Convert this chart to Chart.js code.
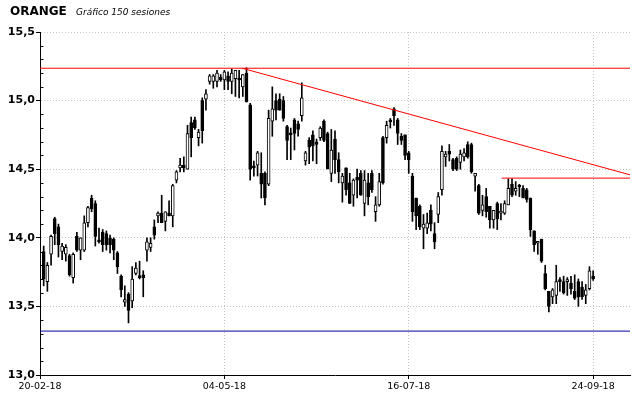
<!DOCTYPE html>
<html><head><meta charset="utf-8">
<script src="https://cdn.jsdelivr.net/npm/chart.js@4.4.1/dist/chart.umd.min.js"></script>
<style>html,body{margin:0;padding:0;background:#fff}#wrap{position:relative;width:640px;height:398px}</style>
</head><body><div id="wrap"><canvas id="c"></canvas></div>
<script>
const opens=[13.90,13.68,13.88,14.14,14.08,13.90,13.88,13.87,13.71,14.01,
13.91,13.91,14.11,14.29,14.25,13.98,14.04,14.03,14.00,13.99,
13.89,13.72,13.53,13.59,13.54,13.74,13.72,13.73,13.91,13.93,
14.08,14.16,14.18,14.12,14.18,14.16,14.42,14.51,14.53,14.50,
14.84,14.86,14.73,15.00,15.01,15.14,15.14,15.14,15.17,15.15,
15.18,15.14,15.16,15.16,15.10,15.20,14.97,14.52,14.53,14.47,
14.47,14.39,14.85,15.00,15.01,15.00,14.81,14.76,14.86,14.83,
14.89,14.56,14.71,14.75,14.70,14.73,14.85,14.76,14.47,14.72,
14.57,14.40,14.51,14.40,14.31,14.44,14.47,14.25,14.40,14.47,
14.19,14.24,14.73,14.73,14.86,14.94,14.86,14.74,14.75,14.62,
14.45,14.29,14.23,14.07,14.07,14.20,14.03,14.17,14.35,14.59,
14.63,14.57,14.58,14.55,14.59,14.68,14.68,14.45,14.38,14.20,
14.30,14.23,14.13,14.25,14.18,14.18,14.24,14.39,14.34,14.38,
14.36,14.35,14.29,14.05,13.96,13.99,13.74,13.61,13.57,13.58,
13.69,13.68,13.68,13.67,13.61,13.68,13.64,13.58,13.63,13.72];
const highs=[13.94,13.82,14.02,14.15,14.10,13.96,13.95,13.88,13.89,14.04,
14.00,14.16,14.23,14.31,14.27,14.07,14.06,14.05,14.02,14.00,
13.90,13.73,13.65,13.60,13.79,13.82,13.83,13.76,14.00,14.00,
14.13,14.19,14.31,14.19,14.27,14.39,14.49,14.58,14.59,14.82,
14.88,14.88,14.79,15.02,15.08,15.19,15.19,15.22,15.19,15.22,
15.21,15.23,15.22,15.22,15.19,15.24,14.98,14.56,14.63,14.62,
14.48,14.93,15.10,15.05,15.05,15.03,14.82,14.80,14.87,14.85,
15.13,14.63,14.73,14.78,14.72,14.81,14.86,14.77,14.79,14.78,
14.62,14.47,14.51,14.47,14.43,14.50,14.49,14.49,14.47,14.49,
14.30,14.47,14.74,14.85,14.87,14.95,14.87,14.76,14.75,14.63,
14.47,14.29,14.24,14.17,14.18,14.24,14.11,14.33,14.67,14.63,
14.68,14.58,14.59,14.64,14.65,14.70,14.69,14.47,14.39,14.31,
14.36,14.23,14.20,14.26,14.25,14.27,14.43,14.43,14.41,14.39,
14.38,14.36,14.29,14.05,13.97,13.99,13.80,13.61,13.63,13.80,
13.71,13.72,13.71,13.72,13.73,13.70,13.68,13.66,13.79,13.76];
const lows=[13.65,13.61,13.80,13.95,13.86,13.84,13.83,13.72,13.67,13.90,
13.84,13.90,14.08,14.19,13.94,13.96,13.90,13.91,13.89,13.84,
13.74,13.57,13.50,13.38,13.49,13.73,13.70,13.57,13.83,13.90,
13.99,14.11,14.11,14.05,14.16,14.08,14.40,14.48,14.48,14.50,
14.59,14.79,14.67,14.69,14.93,15.12,15.09,15.10,15.14,15.08,
15.08,15.05,15.03,15.02,15.03,14.99,14.42,14.45,14.45,14.29,
14.24,14.38,14.74,14.86,14.93,14.85,14.57,14.57,14.64,14.74,
14.85,14.53,14.54,14.56,14.54,14.71,14.70,14.51,14.41,14.47,
14.40,14.26,14.31,14.25,14.23,14.29,14.31,14.16,14.24,14.33,
14.12,14.23,14.39,14.69,14.80,14.82,14.68,14.68,14.57,14.47,
14.12,14.06,14.06,13.92,14.03,14.05,13.92,14.11,14.31,14.52,
14.56,14.49,14.49,14.50,14.56,14.58,14.47,14.34,14.17,14.16,
14.15,14.07,14.07,14.06,14.13,14.17,14.24,14.30,14.31,14.30,
14.29,14.26,14.01,13.90,13.88,13.82,13.62,13.46,13.52,13.52,
13.61,13.59,13.58,13.59,13.55,13.50,13.55,13.52,13.62,13.69];
const closes=[13.70,13.80,14.01,14.03,13.95,13.94,13.93,13.73,13.88,13.91,
14.00,14.11,14.22,14.21,14.01,13.97,13.95,13.95,13.95,13.91,
13.79,13.62,13.55,13.47,13.70,13.78,13.71,13.71,13.97,13.96,
14.02,14.18,14.11,14.19,14.16,14.38,14.48,14.53,14.51,14.76,
14.73,14.80,14.77,14.78,15.05,15.18,15.18,15.20,15.15,15.21,
15.14,15.20,15.22,15.15,15.19,14.99,14.50,14.51,14.62,14.39,
14.29,14.87,14.94,14.93,14.93,14.87,14.71,14.75,14.76,14.79,
15.02,14.62,14.66,14.67,14.68,14.80,14.71,14.50,14.64,14.57,
14.48,14.45,14.35,14.25,14.42,14.42,14.31,14.42,14.30,14.35,
14.24,14.41,14.40,14.82,14.845,14.89,14.76,14.71,14.60,14.57,
14.19,14.16,14.08,14.10,14.11,14.10,13.97,14.30,14.63,14.61,
14.61,14.50,14.50,14.61,14.62,14.59,14.48,14.47,14.18,14.24,
14.19,14.13,14.20,14.14,14.19,14.25,14.36,14.31,14.36,14.37,
14.29,14.28,14.06,13.95,13.96,13.83,13.63,13.50,13.62,13.68,
13.68,13.60,13.69,13.63,13.56,13.57,13.57,13.62,13.76,13.70];
const tickSlots=[0,50,100,150];
const tickLabels=['20-02-18','04-05-18','16-07-18','24-09-18'];
const resistanceLine=[{x:0,y:15.236},{x:160,y:15.236}];
const trendLine=[{x:54.8,y:15.236},{x:160,y:14.459}];
const shortResistance=[{x:125.2,y:14.435},{x:160,y:14.435}];
const supportLine=[{x:0,y:13.32},{x:160,y:13.32}];

const wickData=highs.map((h,i)=>({x:i+1,y:[lows[i],h]}));
const bodyData=opens.map((o,i)=>({x:i+1,y:[Math.min(o,closes[i]),Math.max(o,closes[i])]}));
const bodyColors=opens.map((o,i)=>closes[i]>=o?'#ffffff':'#000000');
const isMajor=v=>Math.abs(Math.round(v*10)%5)===0;

const titlePlugin={id:'titleText',afterDraw(chart){const c=chart.ctx;c.save();c.fillStyle='#000';c.textBaseline='alphabetic';
c.font='bold 12px "DejaVu Sans"';c.fillText('ORANGE',10,15);
c.font='italic 9px "DejaVu Sans"';c.fillText('Gráfico 150 sesiones',76,15);c.restore();}};
const minorTicks={id:'minorTicks',afterDatasetsDraw(chart){const y=chart.scales.y,a=chart.chartArea,c=chart.ctx;c.save();c.strokeStyle='#000';c.lineWidth=1;c.beginPath();
y.ticks.forEach(t=>{if(!isMajor(t.value)){const py=Math.round(y.getPixelForValue(t.value))+0.5;c.moveTo(a.left,py);c.lineTo(a.left+3.5,py);}});c.stroke();c.restore();}};

new Chart(document.getElementById('c'),{
 type:'bar',
 data:{datasets:[
  {type:'line',data:resistanceLine,borderColor:'#ff0000',borderWidth:1,pointRadius:0,order:0},
  {type:'line',data:trendLine,borderColor:'#ff0000',borderWidth:1,pointRadius:0,order:0},
  {type:'line',data:shortResistance,borderColor:'#ff0000',borderWidth:1,pointRadius:0,order:0},
  {type:'line',data:supportLine,borderColor:'#0000a0',borderWidth:1,pointRadius:0,order:0},
  {data:bodyData,backgroundColor:bodyColors,borderColor:'#000',borderWidth:1,borderSkipped:false,barThickness:3,minBarLength:2,grouped:false,order:1},
  {data:wickData,backgroundColor:'#000',borderWidth:0,barThickness:1,grouped:false,order:2}
 ]},
 options:{
  responsive:true,maintainAspectRatio:false,animation:false,devicePixelRatio:1,
  layout:{padding:{top:32,right:10,left:0,bottom:0}},
  plugins:{legend:{display:false},tooltip:{enabled:false}},
  scales:{
   x:{type:'linear',min:0,max:160,offset:false,
    afterBuildTicks:s=>{s.ticks=tickSlots.map(v=>({value:v}));},
    afterFit:s=>{s.height=23;},
    ticks:{autoSkip:false,maxRotation:0,minRotation:0,padding:2,color:'#000',font:{family:'DejaVu Sans',size:9.5},
      callback:v=>{const k=tickSlots.indexOf(v);return k>=0?tickLabels[k]:'';}},
    grid:{offset:false,color:c=>(c.tick&&c.tick.value===0)?'rgba(0,0,0,0)':'#c4c4c4',tickColor:'#000',tickLength:4},
    border:{color:'#000',width:1,dash:[1,2]}},
   y:{min:13,max:15.5,
    afterFit:s=>{s.width=40;},
    ticks:{stepSize:0.1,maxTicksLimit:100,autoSkip:false,padding:1,color:'#000',font:{family:'DejaVu Sans',size:11,weight:'bold'},
      callback:v=>isMajor(v)?Number(v).toFixed(1).replace('.',','):''},
    grid:{color:c=>(c.tick&&isMajor(c.tick.value)&&c.tick.value>13.01)?'#c4c4c4':'rgba(0,0,0,0)',
      tickColor:c=>(c.tick&&isMajor(c.tick.value))?'#000':'rgba(0,0,0,0)',tickLength:4},
    border:{color:'#000',width:1,dash:[1,2]}}
  }
 },
 plugins:[titlePlugin,minorTicks]
});
</script></body></html>
